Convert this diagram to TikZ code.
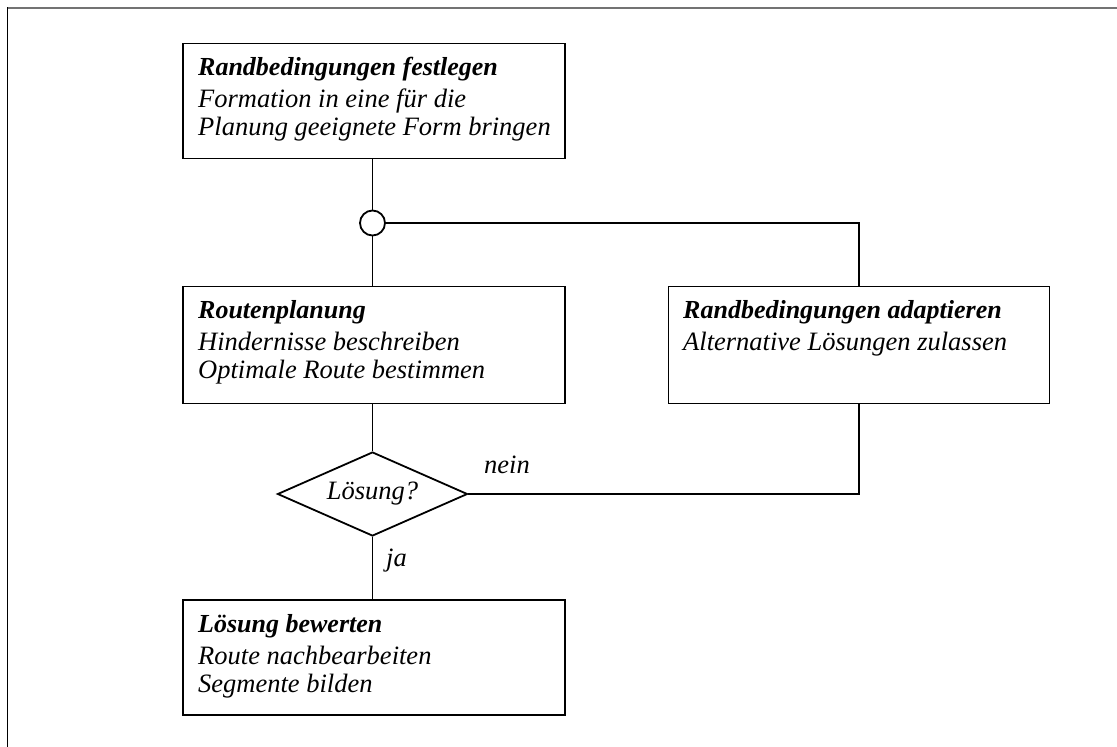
\documentclass[tikz,border=0pt]{standalone}
\usepackage{fontspec}
\setmainfont{Liberation Serif}
\usetikzlibrary{shapes.geometric}
\begin{document}
\begin{tikzpicture}[x=1pt,y=-1pt,
  box/.style={draw=black,line width=1.8pt,inner sep=0pt,anchor=north west},
  txt/.style={anchor=base west,inner sep=0pt,font=\fontsize{26.5}{30}\selectfont\itshape},
  head/.style={txt,font=\fontsize{26}{30}\selectfont\bfseries\itshape},
  wire/.style={line width=1.8pt,draw=black},
  lbl/.style={inner sep=0pt,font=\fontsize{26.5}{30}\selectfont\itshape}]
  \useasboundingbox (0,0) rectangle (1117,747);
  % frame
  \draw[line width=2pt,draw=black!55] (7,7.5) -- (1117,7.5);
  \draw[line width=1.4pt,draw=black] (7.5,7) -- (7.5,747);

  % boxes
  \node[box,minimum width=382pt,minimum height=115pt] (b1) at (182,42.5) {};
  \node[box,minimum width=382pt,minimum height=117pt] (b2) at (182,285.5) {};
  \node[box,minimum width=381pt,minimum height=117pt] (b3) at (667.5,285.5) {};
  \node[box,minimum width=382pt,minimum height=115pt] (b4) at (182,599) {};

  % branching point and decision
  \node[circle,draw=black,line width=1.8pt,fill=white,minimum size=25pt,inner sep=0pt] (c) at (372.5,223) {};
  \node[diamond,draw=black,line width=1.8pt,inner sep=0pt,minimum width=190pt,minimum height=84pt,aspect=2.26,
        font=\fontsize{26.5}{30}\selectfont\itshape] (d) at (372.5,494) {Lösung?};

  % box texts
  \node[head] (t11) at (198,75) {Randbedingungen festlegen};
  \node[txt]  (t12) at (198,107) {Formation in eine für die};
  \node[txt]  (t13) at (198,135) {Planung geeignete Form bringen};

  \node[head] (t21) at (198,318) {Routenplanung};
  \node[txt]  (t22) at (198,350) {Hindernisse beschreiben};
  \node[txt]  (t23) at (198,378) {Optimale Route bestimmen};

  \node[head] (t31) at (683,318) {Randbedingungen adaptieren};
  \node[txt]  (t32) at (683,350) {Alternative Lösungen zulassen};

  \node[head] (t41) at (198,632) {Lösung bewerten};
  \node[txt]  (t42) at (198,664) {Route nachbearbeiten};
  \node[txt]  (t43) at (198,692) {Segmente bilden};

  % connectors
  \draw[wire] (b1.south -| c) -- (c.north);
  \draw[wire] (c.south) -- (b2.north -| c);
  \draw[wire] (c.east) -| (b3.north);
  \draw[wire] (b2.south -| c) -- (d.north);
  \draw[wire] (d.south) -- (b4.north -| d);
  \draw[wire] (d.east) -| (b3.south);

  % branch labels
  \node[lbl,anchor=base west] (nein) at (484,473) {nein};
  \node[lbl,anchor=base west] (ja) at (386,566) {ja};
\end{tikzpicture}
\end{document}
